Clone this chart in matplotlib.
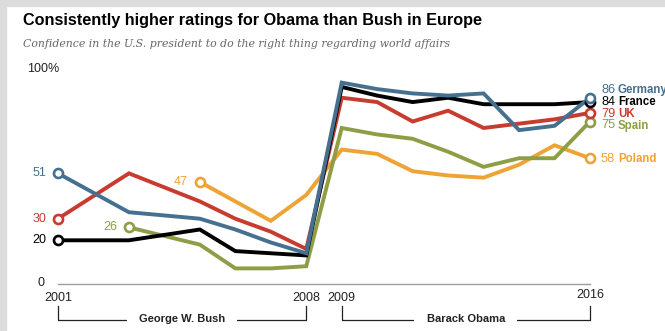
import matplotlib
matplotlib.use("Agg")
import matplotlib.pyplot as plt
from matplotlib.patches import Rectangle

# data: confidence in U.S. president (%), Pew Global Attitudes
years = [2001, 2003, 2005, 2006, 2007, 2008,
         2009, 2010, 2011, 2012, 2013, 2014, 2015, 2016]
years_spain = years[1:]
years_poland = [2005, 2007, 2008,
                2009, 2010, 2011, 2012, 2013, 2014, 2015, 2016]

germany = [51, 33, 30, 25, 19, 14, 93, 90, 88, 87, 88, 71, 73, 86]
france = [20, 20, 25, 15, 14, 13, 91, 87, 84, 86, 83, 83, 83, 84]
uk = [30, 51, 38, 30, 24, 16, 86, 84, 75, 80, 72, 74, 76, 79]
spain = [26, 18, 7, 7, 8, 72, 69, 67, 61, 54, 58, 58, 75]
poland = [47, 29, 41, 62, 60, 52, 50, 49, 55, 64, 58]

names = ["Poland", "Spain", "UK", "France", "Germany"]
series_x = [years_poland, years_spain, years, years, years]
series_y = [poland, spain, uk, france, germany]
colors = ["#eea335", "#8e9e46", "#c83b2e", "#000000", "#46708f"]
end_dy = [-1, -4, -1, 0, 8]   # label nudges in pixels

tick_years = [2001, 2008, 2009, 2016]
terms = [("George W. Bush", 2001, 2008), ("Barack Obama", 2009, 2016)]

W, H = 665, 331
fig = plt.figure(figsize=(W / 100, H / 100), dpi=100)
fig.patch.set_facecolor("white")

# grey frame strips, top and left
fig.patches.append(Rectangle((0, 1 - 6 / H), 1, 6 / H, transform=fig.transFigure,
                             color="#dcdcdc", zorder=0))
fig.patches.append(Rectangle((0, 0), 6 / W, 1, transform=fig.transFigure,
                             color="#dcdcdc", zorder=0))

ax = fig.add_axes([58 / W, (H - 283.5) / H, (590 - 58) / W, 216 / H])
ax.set_xlim(2001, 2016)
ax.set_ylim(0, 100)
ax.axis("off")

body = ["Liberation Sans", "DejaVu Sans"]

ax.plot([2001, 2016], [0, 0], color="#9d9d9d", lw=1, clip_on=False, zorder=1)

for name, xs, ys, c, dy in zip(names, series_x, series_y, colors, end_dy):
    ax.plot(xs, ys, color=c, lw=2.8, solid_joinstyle="miter", clip_on=False, zorder=2)
    ax.plot([xs[0], xs[-1]], [ys[0], ys[-1]], "o", ms=6.5, mfc="white", mec=c,
            mew=1.9, clip_on=False, zorder=3)
    ax.annotate(str(ys[0]), (xs[0], ys[0]), xytext=(-12, 0), textcoords="offset pixels",
                ha="right", va="center", color=c, fontsize=9, family=body)
    ax.annotate(str(ys[-1]), (xs[-1], ys[-1]), xytext=(11, dy), textcoords="offset pixels",
                ha="left", va="center", color=c, fontsize=9.2, family=body)
    ax.annotate(name, (xs[-1], ys[-1]), xytext=(28, dy), textcoords="offset pixels",
                ha="left", va="center", color=c, fontsize=8.3, family=body,
                fontweight="bold")

# y labels
ax.annotate("0", (2001, 0), xytext=(-13, 0), textcoords="offset pixels",
            ha="right", va="center", fontsize=9, family=body, color="#222222")
ax.annotate("100%", (2001, 100), xytext=(-31, -1.5), textcoords="offset pixels",
            ha="left", va="center", fontsize=9, family=body, color="#222222")

# year labels
for yr in tick_years:
    dy = -12 if yr == 2016 else -14.5
    ax.annotate(str(yr), (yr, 0), xytext=(0, dy), textcoords="offset pixels",
                ha="center", va="center", fontsize=9, family=body, color="#222222")

# president brackets
for label, x0, x1 in terms:
    ax.plot([x0, x0, x1, x1], [-10.4, -16.9, -16.9, -10.4], color="#222222", lw=0.9,
            clip_on=False, zorder=1)
    ax.text((x0 + x1) / 2, -17.6, label, ha="center", va="baseline", fontsize=8,
            family=body, fontweight="bold", color="#222222", zorder=4,
            bbox=dict(boxstyle="square,pad=1.1", fc="white", ec="none"))

fig.text(23 / W, 1 - 20 / H, "Consistently higher ratings for Obama than Bush in Europe",
         ha="left", va="center", fontsize=11.7, fontweight="bold",
         family=body, color="#000000")
fig.text(23 / W, 1 - 44 / H,
         "Confidence in the U.S. president to do the right thing regarding world affairs",
         ha="left", va="center", fontsize=7.8, style="italic",
         family=["DejaVu Serif"], color="#666666")

fig.savefig("out.png", dpi=100)
